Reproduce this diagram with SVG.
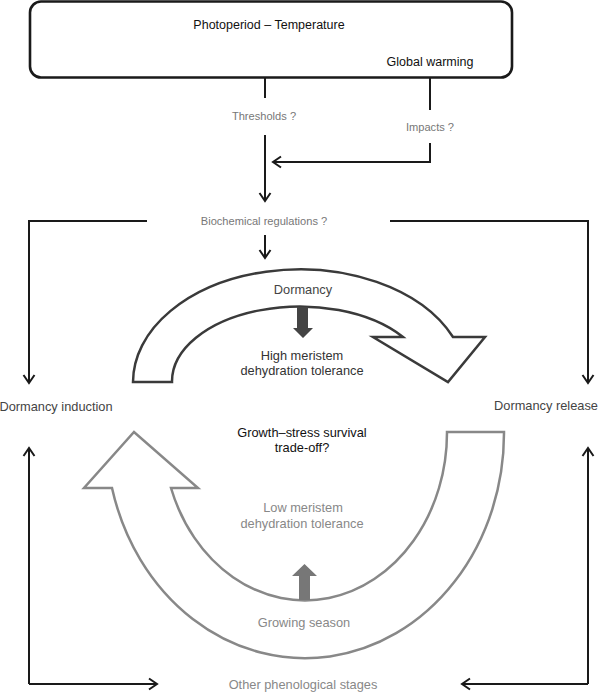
<svg xmlns="http://www.w3.org/2000/svg" width="600" height="692" viewBox="0 0 600 692">
<style>
text{font-family:"Liberation Sans",Arial,sans-serif;text-anchor:middle}
.t{font-size:12.5px;fill:#111}
.s{font-size:11.1px;fill:#777}
.m{font-size:12.8px}
.dk{fill:#444}
.gy{fill:#888}
.ln{fill:none;stroke:#1a1a1a;stroke-width:2}
</style>
<defs>
<marker id="ah" markerUnits="userSpaceOnUse" markerWidth="20" markerHeight="20" viewBox="-10 -10 20 20" refX="0" refY="0" orient="auto">
<path d="M-8,-5.5 L0,0 L-8,5.5" fill="none" stroke="#1a1a1a" stroke-width="2"/>
</marker>
</defs>
<rect width="600" height="692" fill="#fff"/>
<g id="top-box">
<rect x="30" y="1.5" width="482" height="76" rx="11" fill="#fff" stroke="#1a1a1a" stroke-width="2.6"/>
<text class="t" x="269" y="29">Photoperiod – Temperature</text>
<text class="t" x="430" y="66">Global warming</text>
</g>
<g id="connectors">
<path class="ln" d="M265,78 V98"/>
<path class="ln" d="M265,135 V201" marker-end="url(#ah)"/>
<path class="ln" d="M430,78 V110"/>
<path class="ln" d="M430,143 V162 H273" marker-end="url(#ah)"/>
<path class="ln" d="M265,235 V258" marker-end="url(#ah)"/>
<path class="ln" d="M147,221 H29 V383" marker-end="url(#ah)"/>
<path class="ln" d="M390,221 H588 V383" marker-end="url(#ah)"/>
<path class="ln" d="M29,684 V448" marker-end="url(#ah)"/>
<path class="ln" d="M29,684 H157" marker-end="url(#ah)"/>
<path class="ln" d="M588,684 V448" marker-end="url(#ah)"/>
<path class="ln" d="M588,684 H462" marker-end="url(#ah)"/>
</g>
<g id="labels">
<text class="s" x="264" y="120">Thresholds ?</text>
<text class="s" x="430" y="131">Impacts ?</text>
<text class="s" x="264" y="225">Biochemical regulations ?</text>
<text class="m dk" x="56" y="411">Dormancy induction</text>
<text class="m dk" x="546" y="410">Dormancy release</text>
<text class="m gy" x="303" y="689">Other phenological stages</text>
</g>
<g id="dormancy">
<path d="M133,382 A167,113 0 0 1 453,337 L485,337 L448,382 L373,337 L403,337 A128,75 0 0 0 172,382 Z" fill="#fff" stroke="#3a3a3a" stroke-width="2.5" stroke-linejoin="miter"/>
<path d="M297,307 H308 V328 H313 L303,338 L293,328 H297 Z" fill="#444"/>
<text class="m dk" x="303" y="294">Dormancy</text>
<text class="m" x="302" y="360" fill="#333">High meristem</text>
<text class="m" x="302" y="375" fill="#333">dehydration tolerance</text>
</g>
<g id="growing-season">
<path d="M504,432 A199,225 0 0 1 112,488 L84,488 L134,432 L198,488 L171,488 A142,168 0 0 0 447,432 Z" fill="#fff" stroke="#888" stroke-width="2.5"/>
<path d="M299,600 V576 H292 L304.5,564 L317,576 H310 V600 Z" fill="#777"/>
<text class="m gy" x="303" y="512">Low meristem</text>
<text class="m gy" x="302" y="528">dehydration tolerance</text>
<text class="m gy" x="304" y="627">Growing season</text>
</g>
<g id="tradeoff">
<text class="m" x="302" y="437" fill="#111">Growth–stress survival</text>
<text class="m" x="302" y="452" fill="#111">trade-off?</text>
</g>
</svg>
